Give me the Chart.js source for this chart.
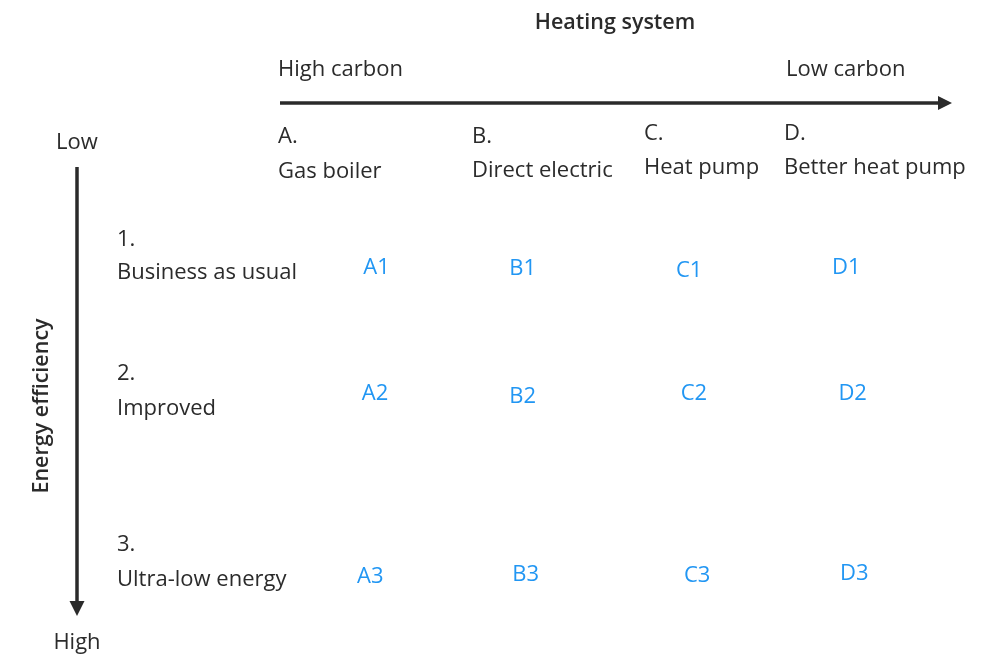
<!DOCTYPE html>
<html>
<head>
<meta charset="utf-8">
<script src="https://cdn.jsdelivr.net/npm/chart.js@4"></script>
<style>
  html, body { margin: 0; padding: 0; background: #fff; }
  #wrap { width: 1002px; height: 659px; position: relative; }
</style>
</head>
<body>
<div id="wrap"><canvas id="grid"></canvas></div>
<script>
// categories
const colCodes = ['A.', 'B.', 'C.', 'D.'];
const colNames = ['Gas boiler', 'Direct electric', 'Heat pump', 'Better heat pump'];
const rowCodes = ['1.', '2.', '3.'];
const rowNames = ['Business as usual', 'Improved', 'Ultra-low energy'];

// cells: label, column position (A=0 .. D=3), row position (1..3)
const cellLabels = ['A1', 'B1', 'C1', 'D1', 'A2', 'B2', 'C2', 'D2', 'A3', 'B3', 'C3', 'D3'];
const cellCol = [0.01, 0.93, 1.98, 2.97, 0.0, 0.93, 2.01, 3.01, -0.03, 0.95, 2.03, 3.02];
const cellRow = [1.0, 1.006, 1.02, 1.0, 1.818, 1.838, 1.818, 1.818, 3.006, 2.994, 3.0, 2.987];

// axis titles
const xTitle = 'Heating system';
const xEnds = ['High carbon', 'Low carbon'];
const yTitle = 'Energy efficiency';
const yEnds = ['Low', 'High'];

const FONT = '"Open Sans", "Noto Sans", sans-serif';
const INK = '#2b2b2b';
const BLUE = '#2196f3';

// layout (pixels)
const L = {
  colX: [278, 472, 644, 784],
  colCodeY: [137, 137, 134, 134],
  colNameY: [172, 171, 168, 168],
  rowX: 117,
  rowCodeY: [240, 374, 545],
  rowNameY: [273, 409, 580],
};

function arrow(ctx, x1, y1, x2, y2, head) {
  const a = Math.atan2(y2 - y1, x2 - x1);
  const bx = x2 - head * Math.cos(a), by = y2 - head * Math.sin(a);
  ctx.beginPath();
  ctx.moveTo(x1, y1);
  ctx.lineTo(bx, by);
  ctx.stroke();
  ctx.beginPath();
  ctx.moveTo(x2, y2);
  ctx.lineTo(bx + (head * 0.5) * Math.sin(a), by - (head * 0.5) * Math.cos(a));
  ctx.lineTo(bx - (head * 0.5) * Math.sin(a), by + (head * 0.5) * Math.cos(a));
  ctx.closePath();
  ctx.fill();
}

const matrixPlugin = {
  id: 'matrix',
  afterDatasetsDraw(chart) {
    const ctx = chart.ctx;
    ctx.save();
    ctx.fillStyle = INK;
    ctx.strokeStyle = INK;
    ctx.textBaseline = 'middle';

    // horizontal axis
    ctx.font = '600 21.5px ' + FONT;
    ctx.textAlign = 'center';
    ctx.fillText(xTitle, 615, 23);
    ctx.font = '22px ' + FONT;
    ctx.textAlign = 'left';
    ctx.fillText(xEnds[0], 278, 70);
    ctx.fillText(xEnds[1], 786, 70);
    ctx.lineWidth = 3.5;
    arrow(ctx, 280, 103, 952, 103, 14);

    // vertical axis
    ctx.textAlign = 'center';
    ctx.fillText(yEnds[0], 77, 143);
    ctx.fillText(yEnds[1], 77, 643);
    arrow(ctx, 77, 167, 77, 616, 15);
    ctx.save();
    ctx.translate(42, 406);
    ctx.rotate(-Math.PI / 2);
    ctx.font = '600 21.5px ' + FONT;
    ctx.fillText(yTitle, 0, 0);
    ctx.restore();

    // column headers
    ctx.textAlign = 'left';
    ctx.font = '22px ' + FONT;
    colCodes.forEach((c, i) => {
      ctx.fillText(c, L.colX[i], L.colCodeY[i]);
      ctx.fillText(colNames[i], L.colX[i], L.colNameY[i]);
    });

    // row headers
    rowCodes.forEach((r, i) => {
      ctx.fillText(r, L.rowX, L.rowCodeY[i]);
      ctx.fillText(rowNames[i], L.rowX, L.rowNameY[i]);
    });

    // cell labels at the points
    ctx.fillStyle = BLUE;
    ctx.textAlign = 'center';
    ctx.font = '22px ' + FONT;
    const meta = chart.getDatasetMeta(0);
    meta.data.forEach((pt, i) => {
      ctx.fillText(cellLabels[i], pt.x, pt.y);
    });
    ctx.restore();
  }
};

new Chart(document.getElementById('grid'), {
  type: 'scatter',
  data: {
    datasets: [{
      data: cellLabels.map((lab, i) => ({ x: cellCol[i], y: cellRow[i] })),
      pointRadius: 0,
      pointHoverRadius: 0,
    }],
  },
  options: {
    responsive: true,
    maintainAspectRatio: false,
    animation: false,
    layout: { padding: 0 },
    scales: {
      x: { type: 'linear', display: false, min: -2.363, max: 3.951 },
      y: { type: 'linear', display: false, reverse: true, min: -0.740, max: 3.539 },
    },
    plugins: {
      legend: { display: false },
      tooltip: { enabled: false },
    },
  },
  plugins: [matrixPlugin],
});
</script>
</body>
</html>
